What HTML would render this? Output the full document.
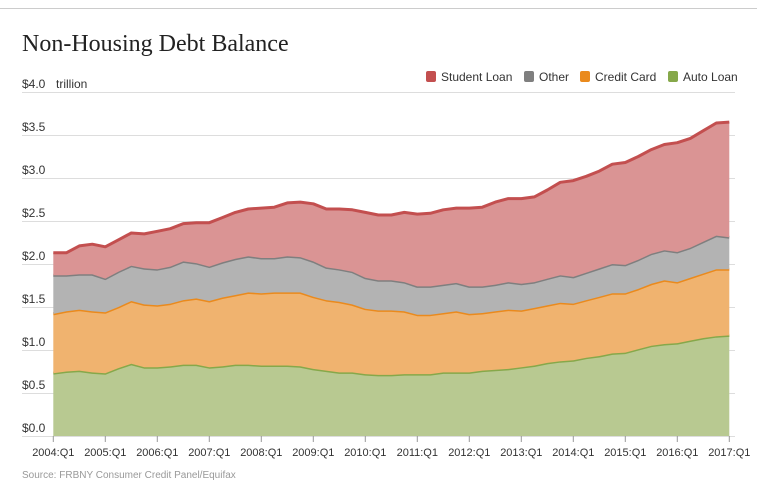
<!DOCTYPE html>
<html><head><meta charset="utf-8"><style>
body{margin:0;background:#fff;width:757px;height:485px;overflow:hidden;font-family:"Liberation Sans",sans-serif}
</style></head><body>
<svg width="757" height="485">
<line x1="0" y1="8.5" x2="757" y2="8.5" stroke="#ccc"/>
<text x="22" y="51" font-family="Liberation Serif,serif" font-size="24" fill="#222">Non-Housing Debt Balance</text>
<g id="grid"></g>
<g id="areas"></g>
<g id="xaxis"></g>
<g id="legend"></g>
<text x="22" y="478" font-size="10" fill="#999">Source: FRBNY Consumer Credit Panel/Equifax</text>
</svg>
<script>
const yTicks=[0,0.5,1,1.5,2,2.5,3,3.5,4];
const xTickLabels=["2004:Q1","2005:Q1","2006:Q1","2007:Q1","2008:Q1","2009:Q1","2010:Q1","2011:Q1","2012:Q1","2013:Q1","2014:Q1","2015:Q1","2016:Q1","2017:Q1"];
const seriesNames=["Auto Loan","Credit Card","Other","Student Loan"];
const autoLoan=[0.73,0.75,0.76,0.74,0.73,0.79,0.84,0.80,0.80,0.81,0.83,0.83,0.80,0.81,0.83,0.83,0.82,0.82,0.82,0.81,0.78,0.76,0.74,0.74,0.72,0.71,0.71,0.72,0.72,0.72,0.74,0.74,0.74,0.76,0.77,0.78,0.80,0.82,0.85,0.87,0.88,0.91,0.93,0.96,0.97,1.01,1.05,1.07,1.08,1.11,1.14,1.16,1.17];
const creditCard=[0.69,0.70,0.71,0.71,0.71,0.71,0.73,0.73,0.72,0.73,0.75,0.77,0.77,0.80,0.81,0.84,0.84,0.85,0.85,0.86,0.84,0.82,0.82,0.79,0.76,0.75,0.75,0.73,0.69,0.69,0.69,0.71,0.68,0.67,0.68,0.69,0.66,0.67,0.67,0.68,0.66,0.67,0.69,0.70,0.69,0.70,0.72,0.74,0.71,0.73,0.75,0.78,0.77];
const other=[0.45,0.42,0.41,0.43,0.39,0.41,0.41,0.42,0.42,0.43,0.45,0.41,0.40,0.41,0.42,0.42,0.41,0.40,0.42,0.41,0.41,0.38,0.38,0.38,0.36,0.35,0.35,0.34,0.33,0.33,0.33,0.33,0.32,0.31,0.31,0.32,0.31,0.30,0.31,0.32,0.31,0.32,0.33,0.34,0.33,0.34,0.35,0.35,0.35,0.35,0.37,0.39,0.37];
const studentLoan=[0.26,0.26,0.33,0.35,0.37,0.37,0.38,0.40,0.44,0.44,0.44,0.47,0.51,0.52,0.54,0.55,0.58,0.59,0.62,0.64,0.67,0.68,0.70,0.72,0.76,0.76,0.76,0.81,0.84,0.85,0.87,0.87,0.91,0.92,0.96,0.97,0.99,0.99,1.03,1.08,1.12,1.12,1.13,1.16,1.19,1.20,1.21,1.23,1.27,1.27,1.29,1.31,1.34];
const NS="http://www.w3.org/2000/svg";
const X0=53.3,X1=729.3,Y0=436,Y1=92;
const n=autoLoan.length;
const xs=i=>X0+(X1-X0)*i/(n-1);
const ys=v=>Y0+(Y1-Y0)*v/4;
function mk(t,a,p){const e=document.createElementNS(NS,t);for(const k in a)e.setAttribute(k,a[k]);p.appendChild(e);return e;}
const grid=document.getElementById('grid');
yTicks.forEach(v=>{
  const l=mk('line',{x1:22,x2:735,y1:ys(v)+0.5,y2:ys(v)+0.5,stroke:'#ddd'},grid);
  
  
  const t=mk('text',{x:22,y:ys(v)-4,'font-size':12,fill:'#333'},grid);
  t.textContent='$'+v.toFixed(1);
  
  
});
const unit=mk('text',{x:56,y:ys(4)-4,'font-size':12,fill:'#333'},grid);
unit.textContent='trillion';


const series=[autoLoan,creditCard,other,studentLoan];
const fills=['#b8c991','#f0b36f','#b3b3b3','#da9494'];
const strokes=['#86a84a','#ea8a1d','#7f7f7f','#c34f4f'];
const keys=['auto-loan','credit-card','other','student-loan'];
const areas=document.getElementById('areas');
let base=new Array(n).fill(0);
series.forEach((s,k)=>{
  const top=s.map((v,i)=>base[i]+v);
  let d='M'+top.map((v,i)=>xs(i).toFixed(1)+','+ys(v).toFixed(1)).join('L');
  for(let i=n-1;i>=0;i--)d+='L'+xs(i).toFixed(1)+','+ys(base[i]).toFixed(1);
  const a=mk('path',{d:d+'Z',fill:fills[k]},areas);
  
  
  const l=mk('path',{d:'M'+top.map((v,i)=>xs(i).toFixed(1)+','+ys(v).toFixed(1)).join('L'),fill:'none',stroke:strokes[k],'stroke-width':3,'stroke-linejoin':'round'},areas);
  
  
  base=top;
});
const xa=document.getElementById('xaxis');
xTickLabels.forEach((lab,j)=>{
  const x=xs(j*4);
  const tk=mk('line',{x1:x,x2:x,y1:436,y2:442,stroke:'#999'},xa);
  
  
  const t=mk('text',{x:x,y:456,'font-size':11,fill:'#333','text-anchor':'middle'},xa);
  t.textContent=lab;
  
  
});
const lg=document.getElementById('legend');
const legendItems=[['Student Loan',3,426],['Other',2,524],['Credit Card',1,580],['Auto Loan',0,668]];
legendItems.forEach(([name,k,x])=>{
  const r=mk('rect',{x:x,y:71,width:10,height:11,rx:2,fill:strokes[k]},lg);
  
  
  const t=mk('text',{x:x+15,y:81,'font-size':12,fill:'#333'},lg);
  t.textContent=name;
  
  
});
</script>
</body></html>
